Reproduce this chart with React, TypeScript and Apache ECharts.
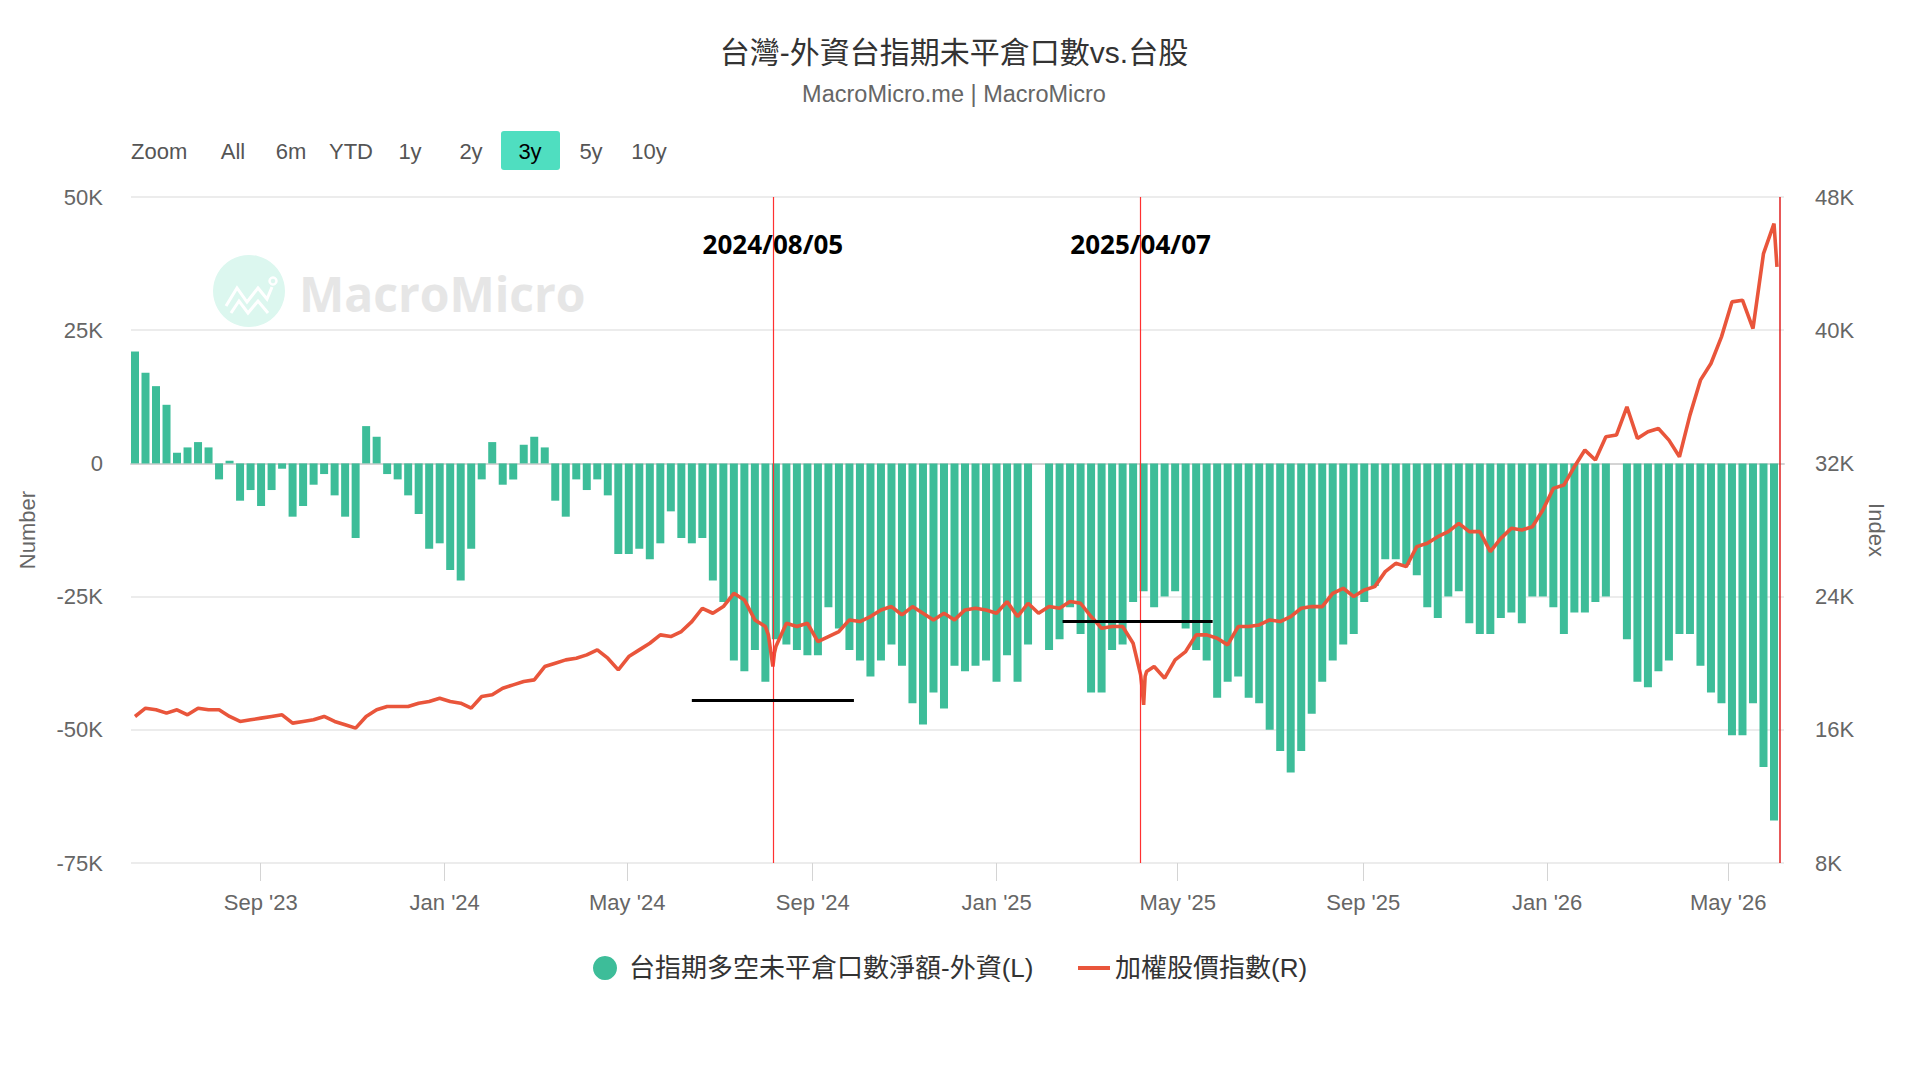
import React, { useEffect, useRef } from 'react';
import * as echarts from 'echarts';

const TITLE = '台灣-外資台指期未平倉口數vs.台股';
const SUBTITLE = 'MacroMicro.me | MacroMicro';
const SERIES_BAR = '台指期多空未平倉口數淨額-外資(L)';
const SERIES_LINE = '加權股價指數(R)';
const LEFT_AXIS_NAME = 'Number';
const RIGHT_AXIS_NAME = 'Index';
const RANGE_BUTTONS = ['All', '6m', 'YTD', '1y', '2y', '3y', '5y', '10y'];
const SELECTED_RANGE = '3y';
const WATERMARK = 'MacroMicro';

// weekly observations (Wednesdays), starting at this date
const FIRST_WEEK = '2023-06-07';
const AXIS_MIN = '2023-06-07';
const AXIS_MAX = '2026-06-07';

// foreign net open interest, thousand contracts (null = market holiday week)
const netOI: (number | null)[] = [
  21, 17, 14.5, 11, 2, 3, 4, 3, -3, 0.5,
  -7, -5, -8, -5, -1, -10, -8, -4, -2, -6,
  -10, -14, 7, 5, -2, -3, -6, -9.5, -16, -15,
  -20, -22, -16, -3, 4, -4, -3, 3.5, 5, 3,
  -7, -10, -3, -5, -3, -6, -17, -17, -16, -18,
  -15, -9, -14, -15, -14, -22, -26, -37, -39, -35,
  -41, -33, -34, -35, -36, -36, -27, -31, -35, -37,
  -40, -37, -34, -38, -45, -49, -43, -46, -38, -39,
  -38, -37, -41, -36, -41, -34, null, -35, -33, -27,
  -32, -43, -43, -35, -34, -26, -24, -27, -25, -24,
  -31, -35, -37, -44, -41, -40, -44, -45, -50, -54,
  -58, -54, -47, -41, -37, -34, -32, -26, -23, -18,
  -18, -19, -21, -27, -29, -25, -24, -30, -32, -32,
  -29, -28, -30, -25, -25, -27, -32, -28, -28, -26,
  -25, null, -33, -41, -42, -39, -37, -32, -32, -38,
  -43, -45, -51, -51, -45, -57, -67,
];

// TAIEX, thousand points (weekly)
const taiex: number[] = [
  16.8, 17.3, 17.2, 17.0, 17.2, 16.9, 17.3, 17.2, 17.2, 16.8,
  16.5, 16.6, 16.7, 16.8, 16.9, 16.4, 16.5, 16.6, 16.8, 16.5,
  16.3, 16.1, 16.8, 17.2, 17.4, 17.4, 17.4, 17.6, 17.7, 17.9,
  17.7, 17.6, 17.3, 18.0, 18.1, 18.5, 18.7, 18.9, 19.0, 19.8,
  20.0, 20.2, 20.3, 20.5, 20.8, 20.3, 19.6, 20.4, 20.8, 21.2,
  21.7, 21.6, 21.9, 22.5, 23.3, 23.0, 23.4, 24.2, 23.8, 22.6,
  22.2, 21.0, 22.4, 22.2, 22.4, 21.3, 21.6, 21.9, 22.6, 22.5,
  22.8, 23.2, 23.4, 22.9, 23.4, 23.0, 22.6, 23.0, 22.6, 23.2,
  23.3, 23.2, 23.0, 23.7, 22.8, 23.6, 23.0, 23.4, 23.3, 23.7,
  23.6, 22.8, 22.1, 22.2, 22.2, 21.2, 17.5, 19.8, 19.1, 20.2,
  20.7, 21.7, 21.7, 21.5, 21.1, 22.2, 22.2, 22.3, 22.6, 22.5,
  22.8, 23.3, 23.4, 23.4, 24.2, 24.5, 24.0, 24.4, 24.6, 25.5,
  26.0, 25.8, 27.0, 27.2, 27.6, 27.9, 28.4, 27.9, 27.9, 26.7,
  27.5, 28.1, 28.0, 28.2, 29.2, 30.5, 30.7, 31.8, 32.8, 32.2,
  33.6, 33.7, 35.4, 33.5, 33.9, 34.1, 33.4, 32.4, 34.9, 37.0,
  38.0, 39.6, 41.7, 41.8, 40.1, 44.6, 46.4,
];

// extra daily TAIEX observations around the sharp moves
const taiexExtraDates = ['2024-08-02', '2024-08-05', '2024-08-06', '2025-04-07', '2025-04-08', '2025-04-10', '2025-04-11', '2026-06-05'];
const taiexExtraValues = [21.7, 19.8, 20.6, 19.3, 18.5, 19.2, 19.5, 43.8];

const xTickDates = ['2023-09-01', '2024-01-01', '2024-05-01', '2024-09-01', '2025-01-01', '2025-05-01', '2025-09-01', '2026-01-01', '2026-05-01'];
const xTickLabels = ["Sep '23", "Jan '24", "May '24", "Sep '24", "Jan '25", "May '25", "Sep '25", "Jan '26", "May '26"];

const eventDates = ['2024-08-05', '2025-04-07'];
const eventLabels = ['2024/08/05', '2025/04/07'];
const eventLabelLevel = 41.2;
const lastDate = '2026-06-07';

const levelFrom = ['2024-06-12', '2025-02-14'];
const levelTo = ['2024-09-28', '2025-05-25'];
const levelValue = [-44.4, -29.7];

const GREEN = '#3dbd99';
const RED = '#e9553b';
const FONT = "'Liberation Sans', 'Noto Sans CJK TC', sans-serif";

const DAY = 86400000;
function ts(s: string): number {
  const [y, m, d] = s.split('-').map(Number);
  return Date.UTC(y, m - 1, d);
}

export default function App() {
  const ref = useRef<HTMLDivElement>(null);

  useEffect(() => {
    document.body.style.margin = '0';
    if (!ref.current) return;
    const chart = echarts.init(ref.current, null, { renderer: 'svg' });

    const start = ts(FIRST_WEEK);
    const weekTs = netOI.map((_, i) => start + i * 7 * DAY);
    const barData = netOI.map((v, i) => [weekTs[i], v]);
    const lineData: [number, number][] = taiex.map((v, i) => [weekTs[i], v] as [number, number]);
    taiexExtraDates.forEach((d, i) => lineData.push([ts(d), taiexExtraValues[i]]));
    lineData.sort((a, b) => a[0] - b[0]);

    const tickTs = xTickDates.map(ts);
    const labelByTs: Record<number, string> = {};
    tickTs.forEach((t, i) => (labelByTs[t] = xTickLabels[i]));

    const btnX = [233, 291, 351, 410, 471, 530, 591, 649];
    const graphics: any[] = [
      { type: 'text', x: 131, y: 151, style: { text: 'Zoom', fontSize: 22, fill: '#555', fontFamily: FONT, textVerticalAlign: 'middle' } },
      { type: 'rect', shape: { x: 501, y: 131, width: 59, height: 39, r: 3 }, style: { fill: '#4fdec0' } },
    ];
    RANGE_BUTTONS.forEach((b, i) => {
      graphics.push({
        type: 'text',
        x: btnX[i],
        y: 151,
        style: {
          text: b,
          fontSize: 22,
          fill: b === SELECTED_RANGE ? '#000' : '#555',
          fontFamily: FONT,
          textAlign: 'center',
          textVerticalAlign: 'middle',
        },
      });
    });
    // watermark
    graphics.push(
      { type: 'circle', z: -1, shape: { cx: 249, cy: 291, r: 36 }, style: { fill: '#dcf7ef' } },
      { type: 'polyline', z: -1, shape: { points: [[226, 306], [237, 288], [247, 302], [258, 288], [267, 299], [272, 287]] }, style: { stroke: '#fff', lineWidth: 3, fill: 'none' } },
      { type: 'polyline', z: -1, shape: { points: [[231, 313], [239, 301], [248, 313], [258, 301], [268, 313]] }, style: { stroke: '#fff', lineWidth: 3, fill: 'none' } },
      { type: 'circle', z: -1, shape: { cx: 273, cy: 281, r: 3.5 }, style: { fill: 'none', stroke: '#fff', lineWidth: 2.5 } },
      { type: 'text', z: -1, x: 299, y: 293, style: { text: WATERMARK, fontSize: 48, fontWeight: 'bold', fill: '#e6e6e6', fontFamily: "'Open Sans', sans-serif", textVerticalAlign: 'middle' } }
    );

    const legendText = { fontSize: 26, color: '#333', fontFamily: FONT };

    const option: any = {
      animation: false,
      backgroundColor: '#fff',
      title: [
        { text: TITLE, left: 954, textAlign: 'center', top: 37, padding: 0, textStyle: { fontSize: 30, fontWeight: 'normal', color: '#333', fontFamily: FONT } },
        { text: SUBTITLE, left: 954, textAlign: 'center', top: 82, padding: 0, textStyle: { fontSize: 23.5, fontWeight: 'normal', color: '#666', fontFamily: FONT } },
      ],
      legend: [
        {
          left: 593,
          top: 955,
          padding: 0,
          itemWidth: 38,
          itemHeight: 24,
          symbolKeepAspect: true,
          textStyle: legendText,
          data: [{ name: SERIES_BAR, icon: 'circle' }],
        },
        {
          left: 1078,
          top: 955,
          padding: 0,
          itemWidth: 32,
          itemHeight: 24,
          symbolKeepAspect: true,
          textStyle: legendText,
          data: [{ name: SERIES_LINE, icon: 'path://M0,0 L32,0 L32,4 L0,4 Z' }],
        },
      ],
      grid: { left: 131, right: 136, top: 197, bottom: 217, containLabel: false },
      graphic: graphics,
      xAxis: [
        {
          type: 'time',
          position: 'bottom',
          min: ts(AXIS_MIN),
          max: ts(AXIS_MAX),
          axisLine: { show: true, lineStyle: { color: '#d4d4d4', width: 2 } },
          axisTick: { show: false },
          axisLabel: { show: false },
          splitLine: { show: false },
        },
        {
          type: 'value',
          position: 'bottom',
          min: ts(AXIS_MIN),
          max: ts(AXIS_MAX),
          axisLine: { show: false },
          axisTick: { show: true, customValues: tickTs, length: 18, lineStyle: { color: '#d4d4d4', width: 1 } },
          axisLabel: {
            show: true,
            customValues: tickTs,
            formatter: (v: number) => labelByTs[v] ?? '',
            fontSize: 22,
            color: '#666',
            margin: 28,
            fontFamily: FONT,
          },
          splitLine: { show: false },
        },
      ],
      yAxis: [
        {
          type: 'value',
          position: 'left',
          min: -75,
          max: 50,
          interval: 25,
          name: LEFT_AXIS_NAME,
          nameLocation: 'middle',
          nameRotate: 90,
          nameGap: 93,
          nameTextStyle: { fontSize: 22, color: '#666', fontFamily: FONT },
          axisLine: { show: false },
          axisTick: { show: false },
          axisLabel: { formatter: (v: number) => (v === 0 ? '0' : v + 'K'), fontSize: 22, color: '#666', margin: 28, fontFamily: FONT },
          splitLine: { show: true, lineStyle: { color: '#e6e6e6', width: 1.5 } },
        },
        {
          type: 'value',
          position: 'right',
          min: 8,
          max: 48,
          interval: 8,
          name: RIGHT_AXIS_NAME,
          nameLocation: 'middle',
          nameRotate: -90,
          nameGap: 78,
          nameTextStyle: { fontSize: 22, color: '#666', fontFamily: FONT },
          axisLine: { show: false },
          axisTick: { show: false },
          axisLabel: { formatter: (v: number) => v + 'K', fontSize: 22, color: '#666', margin: 31, fontFamily: FONT },
          splitLine: { show: false },
        },
      ],
      series: [
        {
          name: SERIES_BAR,
          type: 'bar',
          xAxisIndex: 0,
          yAxisIndex: 0,
          barWidth: 8,
          data: barData,
          itemStyle: { color: GREEN },
          z: 2,
          markLine: {
            silent: true,
            symbol: ['none', 'none'],
            label: { show: false },
            emphasis: { disabled: true },
            data: [
              ...eventDates.map((d) => ({ xAxis: ts(d), lineStyle: { color: '#ff3030', width: 1.2, type: 'solid', opacity: 1 } })),
              { xAxis: ts(lastDate), lineStyle: { color: '#e02020', width: 1.5, type: 'solid', opacity: 1 } },
              ...levelFrom.map((d, i) => [
                { coord: [ts(d), levelValue[i]], lineStyle: { color: '#000', width: 3, type: 'solid', opacity: 1 } },
                { coord: [ts(levelTo[i]), levelValue[i]] },
              ]),
            ],
          },
          markPoint: {
            silent: true,
            symbol: 'rect',
            symbolSize: 1,
            itemStyle: { color: 'rgba(0,0,0,0)' },
            label: {
              show: true,
              position: 'inside',
              color: '#000',
              fontSize: 26,
              fontWeight: 'bold',
              fontFamily: "'Noto Sans', sans-serif",
            },
            data: eventDates.map((d, i) => ({
              coord: [ts(d), eventLabelLevel],
              label: { formatter: eventLabels[i] },
            })),
          },
        },
        {
          name: SERIES_LINE,
          type: 'line',
          xAxisIndex: 0,
          yAxisIndex: 1,
          data: lineData,
          showSymbol: false,
          symbol: 'none',
          lineStyle: { color: RED, width: 3.6 },
          itemStyle: { color: RED },
          z: 3,
        },
      ],
    };

    chart.setOption(option);
    return () => chart.dispose();
  }, []);

  return <div ref={ref} style={{ width: 1920, height: 1080 }} />;
}
